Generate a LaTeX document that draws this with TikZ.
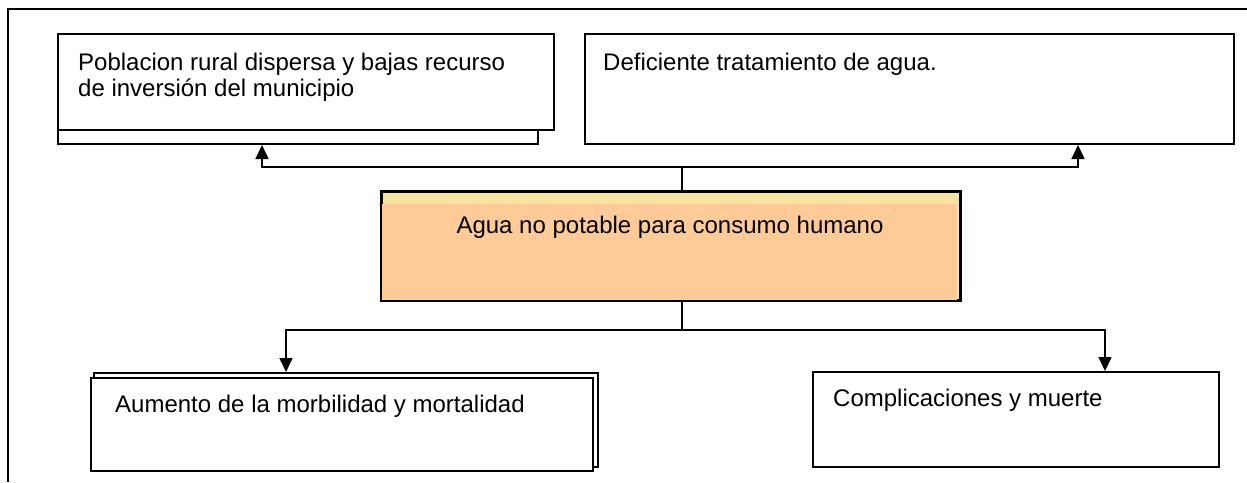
\documentclass[tikz,border=0pt]{standalone}
\usepackage{fontspec}
\setmainfont{Liberation Sans}
\usetikzlibrary{arrows.meta}
\definecolor{backyel}{HTML}{F7E3A6}
\definecolor{frontor}{HTML}{FDCA98}
\tikzset{
  boxr/.style={draw=black, line width=2pt, fill=white, rectangle, inner sep=0pt},
  txt/.style={font=\fontsize{24}{26}\selectfont, inner sep=0pt, align=left},
  conn/.style={line width=1.6pt},
  arr/.style={conn, -{Triangle[width=13pt,length=14pt]}}
}
\begin{document}
\begin{tikzpicture}[x=1pt,y=-1pt]
\useasboundingbox (0,0) rectangle (1247,482);
% outer frame
\coordinate (fbl) at (8,482);
\coordinate (ftl) at (8,9);
\coordinate (ftr) at (1247,9);
\draw[line width=2pt] (fbl) -- (ftl) -- (ftr);

% box 1 (stacked)
\node[boxr, minimum width=480pt, minimum height=95pt, anchor=north west] (b1back) at (57,48) {};
\node[boxr, minimum width=496pt, minimum height=96pt, anchor=north west] (b1) at (57,33) {};
\node[txt, anchor=north west] (t1) at (78,53) {Poblacion rural dispersa y bajas recurso\\de inversión del municipio};

% box 2
\node[boxr, minimum width=649pt, minimum height=110pt, anchor=north west] (b2) at (584,33) {};
\node[txt, anchor=base west] (t2) at (603,70) {Deficiente tratamiento de agua.};

% center box
\node[boxr, fill=backyel, minimum width=578pt, minimum height=108pt, anchor=north west] (c) at (381,191) {};
\fill[frontor] ([xshift=1pt,yshift=-13pt]c.north west) rectangle ([xshift=-4pt,yshift=1pt]c.south east);
\draw[line width=2pt] (c.north west) rectangle (c.south east);
\node[txt, anchor=base] (tc) at (670,233) {Agua no potable para consumo humano};

% box 3 (stacked)
\node[boxr, minimum width=504pt, minimum height=94pt, anchor=north west] (b3back) at (93,372) {};
\node[boxr, minimum width=502pt, minimum height=93pt, anchor=north west] (b3) at (90,377) {};
\node[txt, anchor=base west] (t3) at (115,412) {Aumento de la morbilidad y mortalidad};

% box 4
\node[boxr, minimum width=406pt, minimum height=95pt, anchor=north west] (b4) at (812,371) {};
\node[txt, anchor=base west] (t4) at (833,406) {Complicaciones y muerte};

% connectors up
\coordinate (up) at (682,167);
\coordinate (upl) at (262,167);
\coordinate (upr) at (1078,167);
\draw[conn] (c.north -| up) -- (up);
\draw[arr] (up) -- (upl) -- (upl |- b1back.south);
\draw[arr] (up) -- (upr) -- (upr |- b2.south);

% connectors down
\coordinate (dn) at (682,330);
\coordinate (dnl) at (286,330);
\coordinate (dnr) at (1105,330);
\draw[conn] (c.south -| dn) -- (dn);
\draw[arr] (dn) -- (dnl) -- (dnl |- b3back.north);
\draw[arr] (dn) -- (dnr) -- (dnr |- b4.north);
\end{tikzpicture}
\end{document}
